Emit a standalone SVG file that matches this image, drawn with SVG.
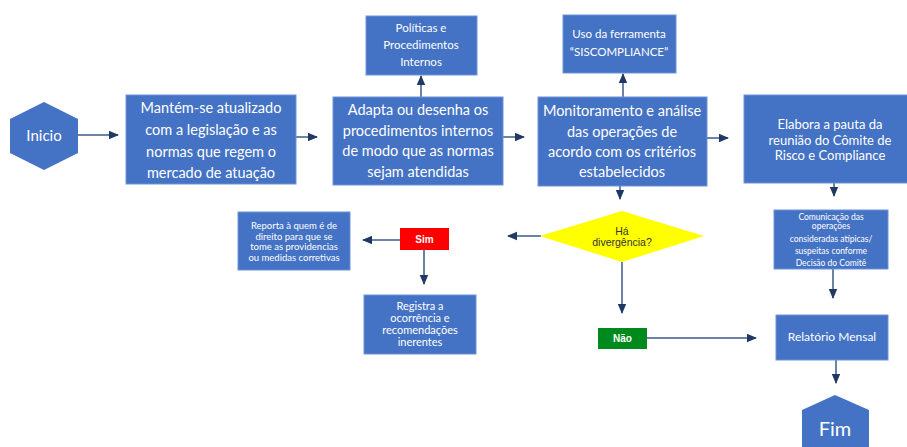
<svg xmlns="http://www.w3.org/2000/svg" width="907" height="447" viewBox="0 0 907 447">
<defs>
<marker id="ah" markerUnits="userSpaceOnUse" markerWidth="10" markerHeight="10" viewBox="0 0 10 10" refX="9" refY="5" orient="auto">
<path d="M0,0.8 L10,5 L0,9.2 Z" fill="#1F3864"/>
</marker>
<style>
.b{fill:#4472C4;stroke:#6E93D6;stroke-width:1}
.t{font-family:Lato,"Open Sans",sans-serif;fill:#FFFFFF;text-anchor:middle}
.c{stroke:#3A5A8A;stroke-width:1.5;fill:none;marker-end:url(#ah)}
.a{font-family:"Liberation Sans",Arial,sans-serif;text-anchor:middle}
</style>
</defs>
<rect width="907" height="447" fill="#FFFFFF"/>
<g id="connectors">
<line class="c" x1="78" y1="135" x2="118" y2="135"/>
<line class="c" x1="296" y1="137" x2="317" y2="137"/>
<line class="c" x1="421" y1="97" x2="421" y2="76"/>
<line class="c" x1="503" y1="137" x2="524" y2="137"/>
<line class="c" x1="623" y1="97" x2="623" y2="74"/>
<line class="c" x1="620" y1="186" x2="620" y2="199"/>
<line class="c" x1="707" y1="138" x2="728" y2="138"/>
<line class="c" x1="834" y1="183" x2="834" y2="196"/>
<line class="c" x1="833" y1="269" x2="833" y2="298"/>
<line class="c" x1="836" y1="360" x2="836" y2="383"/>
<line class="c" x1="541" y1="236" x2="508" y2="236"/>
<line class="c" x1="400" y1="240" x2="363" y2="240"/>
<line class="c" x1="424" y1="250" x2="424" y2="284"/>
<line class="c" x1="622" y1="262" x2="622" y2="313"/>
<line class="c" x1="647" y1="338" x2="756" y2="338"/>
</g>
<g id="inicio">
<polygon points="44,102 78,119 78,153 44,170 10,153 10,119" fill="#4472C4"/>
<text class="t" x="44" y="141" font-size="15">Inicio</text>
</g>
<g id="atualizado">
<rect class="b" x="126" y="95" width="170" height="89"/>
<text class="t" font-size="14.5"><tspan x="211" y="113">Mantém-se atualizado</tspan><tspan x="211" y="135">com a legislação e as</tspan><tspan x="211" y="157">normas que regem o</tspan><tspan x="211" y="178">mercado de atuação</tspan></text>
</g>
<g id="adapta">
<rect class="b" x="333" y="97" width="170" height="88"/>
<text class="t" font-size="14.5"><tspan x="418" y="115">Adapta ou desenha os</tspan><tspan x="418" y="136">procedimentos internos</tspan><tspan x="418" y="156">de modo que as normas</tspan><tspan x="418" y="177">sejam atendidas</tspan></text>
</g>
<g id="politicas">
<rect class="b" x="366" y="16" width="111" height="59"/>
<text class="t" font-size="11.5"><tspan x="421" y="32">Políticas e</tspan><tspan x="421" y="49">Procedimentos</tspan><tspan x="421" y="66">Internos</tspan></text>
</g>
<g id="monitoramento">
<rect class="b" x="538" y="97" width="169" height="89"/>
<text class="t" font-size="14.5"><tspan x="622" y="116">Monitoramento e análise</tspan><tspan x="622" y="137">das operações de</tspan><tspan x="622" y="157">acordo com os critérios</tspan><tspan x="622" y="177">estabelecidos</tspan></text>
</g>
<g id="uso">
<rect class="b" x="563" y="15" width="113" height="58"/>
<text class="t" font-size="11.5"><tspan x="619" y="38">Uso da ferramenta</tspan><tspan x="619" y="56">“SISCOMPLIANCE”</tspan></text>
</g>
<g id="elabora">
<rect class="b" x="744" y="95" width="170" height="88"/>
<text class="t" font-size="13"><tspan x="830" y="129">Elabora a pauta da</tspan><tspan x="830" y="144.5">reunião do Cômite de</tspan><tspan x="830" y="160">Risco e Compliance</tspan></text>
</g>
<g id="comunicacao">
<rect class="b" x="774" y="210" width="114" height="59"/>
<text class="t" font-size="8.5"><tspan x="831" y="220">Comunicação das</tspan><tspan x="831" y="229">operações</tspan><tspan x="831" y="242">consideradas atípicas/</tspan><tspan x="831" y="254">suspeitas conforme</tspan><tspan x="831" y="266">Decisão do Comitê</tspan></text>
</g>
<g id="relatorio">
<rect class="b" x="776" y="315" width="112" height="45"/>
<text class="t" x="832" y="341" font-size="12">Relatório Mensal</text>
</g>
<g id="fim">
<polygon points="835,395 869,410 869,450 802,450 802,410" fill="#4472C4"/>
<text class="t" x="835" y="436" font-size="20">Fim</text>
</g>
<g id="divergencia">
<polygon points="540,236 622,211 704,236 622,262" fill="#FFFF00"/>
<text class="a" font-size="10.5" fill="#333333"><tspan x="622" y="235">Há</tspan><tspan x="622" y="246">divergência?</tspan></text>
</g>
<g id="sim">
<rect x="400" y="228" width="49" height="22" fill="#FF0000"/>
<text class="a" x="424.5" y="243" font-size="10" font-weight="bold" fill="#FFFFFF">Sim</text>
</g>
<g id="reporta">
<rect class="b" x="238" y="212" width="112" height="58"/>
<text class="t" font-size="9.5"><tspan x="294" y="228.5">Reporta à quem é de</tspan><tspan x="294" y="239.5">direito para que se</tspan><tspan x="294" y="250">tome as providencias</tspan><tspan x="294" y="261">ou medidas corretivas</tspan></text>
</g>
<g id="registra">
<rect class="b" x="364" y="295" width="112" height="59"/>
<text class="t" font-size="11"><tspan x="420" y="309.5">Registra a</tspan><tspan x="420" y="321.5">ocorrência e</tspan><tspan x="420" y="333.5">recomendações</tspan><tspan x="420" y="345.5">inerentes</tspan></text>
</g>
<g id="nao">
<rect x="598" y="328" width="49" height="21" fill="#008A1E"/>
<text class="a" x="622.5" y="342" font-size="10" font-weight="bold" fill="#FFFFFF">Não</text>
</g>
</svg>
